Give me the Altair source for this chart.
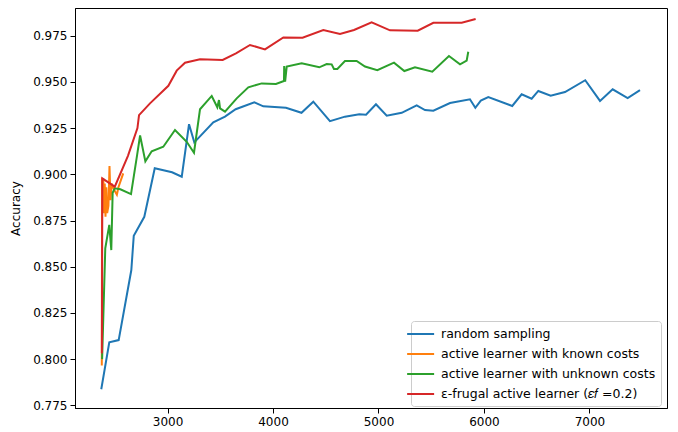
import altair as alt
import pandas as pd

# ---- data ----
rand_x = [2372, 2448, 2537, 2657, 2680, 2780, 2879, 3043, 3135, 3204, 3254, 3434, 3545, 3646, 3823, 3908,
          4123, 4270, 4382, 4540, 4682, 4818, 4882, 4976, 5078, 5220, 5362, 5441, 5520, 5678, 5867, 5918,
          5970, 6041, 6268, 6357, 6452, 6515, 6632, 6768, 6960, 7100, 7220, 7362, 7479]
rand_y = [0.7837, 0.8091, 0.8103, 0.8482, 0.8667, 0.8770, 0.9033, 0.9011, 0.8987, 0.9271, 0.9173, 0.9281,
          0.9312, 0.9352, 0.9390, 0.9368, 0.9360, 0.9333, 0.9393, 0.9288, 0.9312, 0.9325, 0.9323, 0.9379,
          0.9317, 0.9333, 0.9373, 0.9348, 0.9344, 0.9386, 0.9406, 0.9360, 0.9399, 0.9418, 0.9370, 0.9433,
          0.9409, 0.9451, 0.9425, 0.9445, 0.9509, 0.9397, 0.9460, 0.9413, 0.9456]

known_x = [2377, 2380, 2392, 2398, 2405, 2412, 2420, 2428, 2440, 2450, 2460, 2470, 2490, 2520, 2535, 2580]
known_y = [0.7965, 0.8975, 0.8972, 0.8790, 0.8950, 0.8770, 0.8930, 0.8790, 0.8830, 0.9045, 0.8860, 0.8950,
           0.8920, 0.8890, 0.8930, 0.9005]

unk_x = [2380, 2410, 2448, 2467, 2480, 2500, 2553, 2654, 2712, 2740, 2790, 2850, 2960, 3071, 3182,
         3251, 3308, 3419, 3472, 3488, 3498, 3545, 3656, 3766, 3893, 4028, 4104, 4106, 4115, 4130, 4272,
         4439, 4509, 4556, 4578, 4610, 4682, 4793, 4872, 4989, 5147, 5245, 5346, 5510, 5668, 5773, 5836, 5851]
unk_y = [0.8000, 0.8600, 0.8726, 0.8590, 0.8900, 0.8924, 0.8919, 0.8893, 0.9105, 0.9210, 0.9070, 0.9125,
         0.9149, 0.9240, 0.9176, 0.9117, 0.9352, 0.9424, 0.9363, 0.9402, 0.9357, 0.9339, 0.9411,
         0.9471, 0.9492, 0.9489, 0.9505, 0.9586, 0.9501, 0.9583, 0.9601, 0.9579, 0.9597, 0.9595, 0.9570,
         0.9570, 0.9613, 0.9613, 0.9583, 0.9564, 0.9604, 0.9559, 0.9579, 0.9555, 0.9640, 0.9595, 0.9615, 0.9663]

frug_x = [2378, 2382, 2500, 2625, 2715, 2730, 2834, 3008, 3087, 3166, 3308, 3523, 3649, 3782, 3924, 4098,
          4280, 4477, 4635, 4768, 4935, 5109, 5372, 5520, 5789, 5921]
frug_y = [0.8031, 0.8978, 0.8933, 0.9100, 0.9250, 0.9320, 0.9384, 0.9479, 0.9561, 0.9604, 0.9622, 0.9619,
          0.9655, 0.9700, 0.9676, 0.9741, 0.9739, 0.9781, 0.9759, 0.9781, 0.9822, 0.9779, 0.9777, 0.9820,
          0.9820, 0.9840]

names = ["random sampling", "active learner with known costs", "active learner with unknown costs",
         "ε-frugal active learner (𝜀𝑓 =0.2)"]
colors = ["#1f77b4", "#ff7f0e", "#2ca02c", "#d62728"]
x_ticks = [3000, 4000, 5000, 6000, 7000]
y_ticks = [0.775, 0.800, 0.825, 0.850, 0.875, 0.900, 0.925, 0.950, 0.975]

rows = []
for name, xs, ys in zip(names, [rand_x, known_x, unk_x, frug_x], [rand_y, known_y, unk_y, frug_y]):
    for i, (a, b) in enumerate(zip(xs, ys)):
        rows.append({"series": name, "x": a, "y": b, "i": i})
df = pd.DataFrame(rows)

color_scale = alt.Scale(domain=names, range=colors)
xs = alt.X("x:Q", scale=alt.Scale(domain=[2123, 7735], nice=False, zero=False),
           axis=alt.Axis(values=x_ticks, title=None, format="d", grid=False))
ys = alt.Y("y:Q", scale=alt.Scale(domain=[0.77354, 0.99], nice=False, zero=False),
           axis=alt.Axis(values=y_ticks, title="Accuracy", format=".3f", grid=False, titlePadding=10))

layers = []
for k, name in enumerate(names):
    layers.append(
        alt.Chart(df).transform_filter(alt.datum.series == name).mark_line(strokeWidth=2, clip=True).encode(
            x=xs, y=ys, order=alt.Order("i:Q"),
            color=alt.Color("series:N", scale=color_scale,
                            legend=alt.Legend(title=None, orient="none", legendX=336, legendY=313,
                                              symbolType="M-2.5,0H1.5", symbolSize=182, symbolStrokeWidth=2,
                                              labelFontSize=12.5, labelFont="DejaVu Sans", labelColor="black",
                                              labelOffset=9, rowPadding=5, padding=5,
                                              strokeColor="#cccccc", fillColor="rgba(255,255,255,0.8)",
                                              cornerRadius=3, labelLimit=400))
        )
    )

chart = alt.layer(*layers).properties(
    width=592, height=400,
    autosize=alt.AutoSizeParams(type="none"),
    padding={"left": 67, "top": 0, "right": 3, "bottom": 24},
).configure_view(stroke="black", strokeWidth=1).configure_axis(
    labelFont="DejaVu Sans", labelFontSize=12, labelColor="black",
    titleFont="DejaVu Sans", titleFontSize=12, titleColor="black", titleFontWeight="normal",
    tickColor="black", tickSize=5, tickWidth=1, domainColor="black", domainWidth=1, labelPadding=3,
)

chart.save("out.html", embed_options={"renderer": "svg", "actions": False})
